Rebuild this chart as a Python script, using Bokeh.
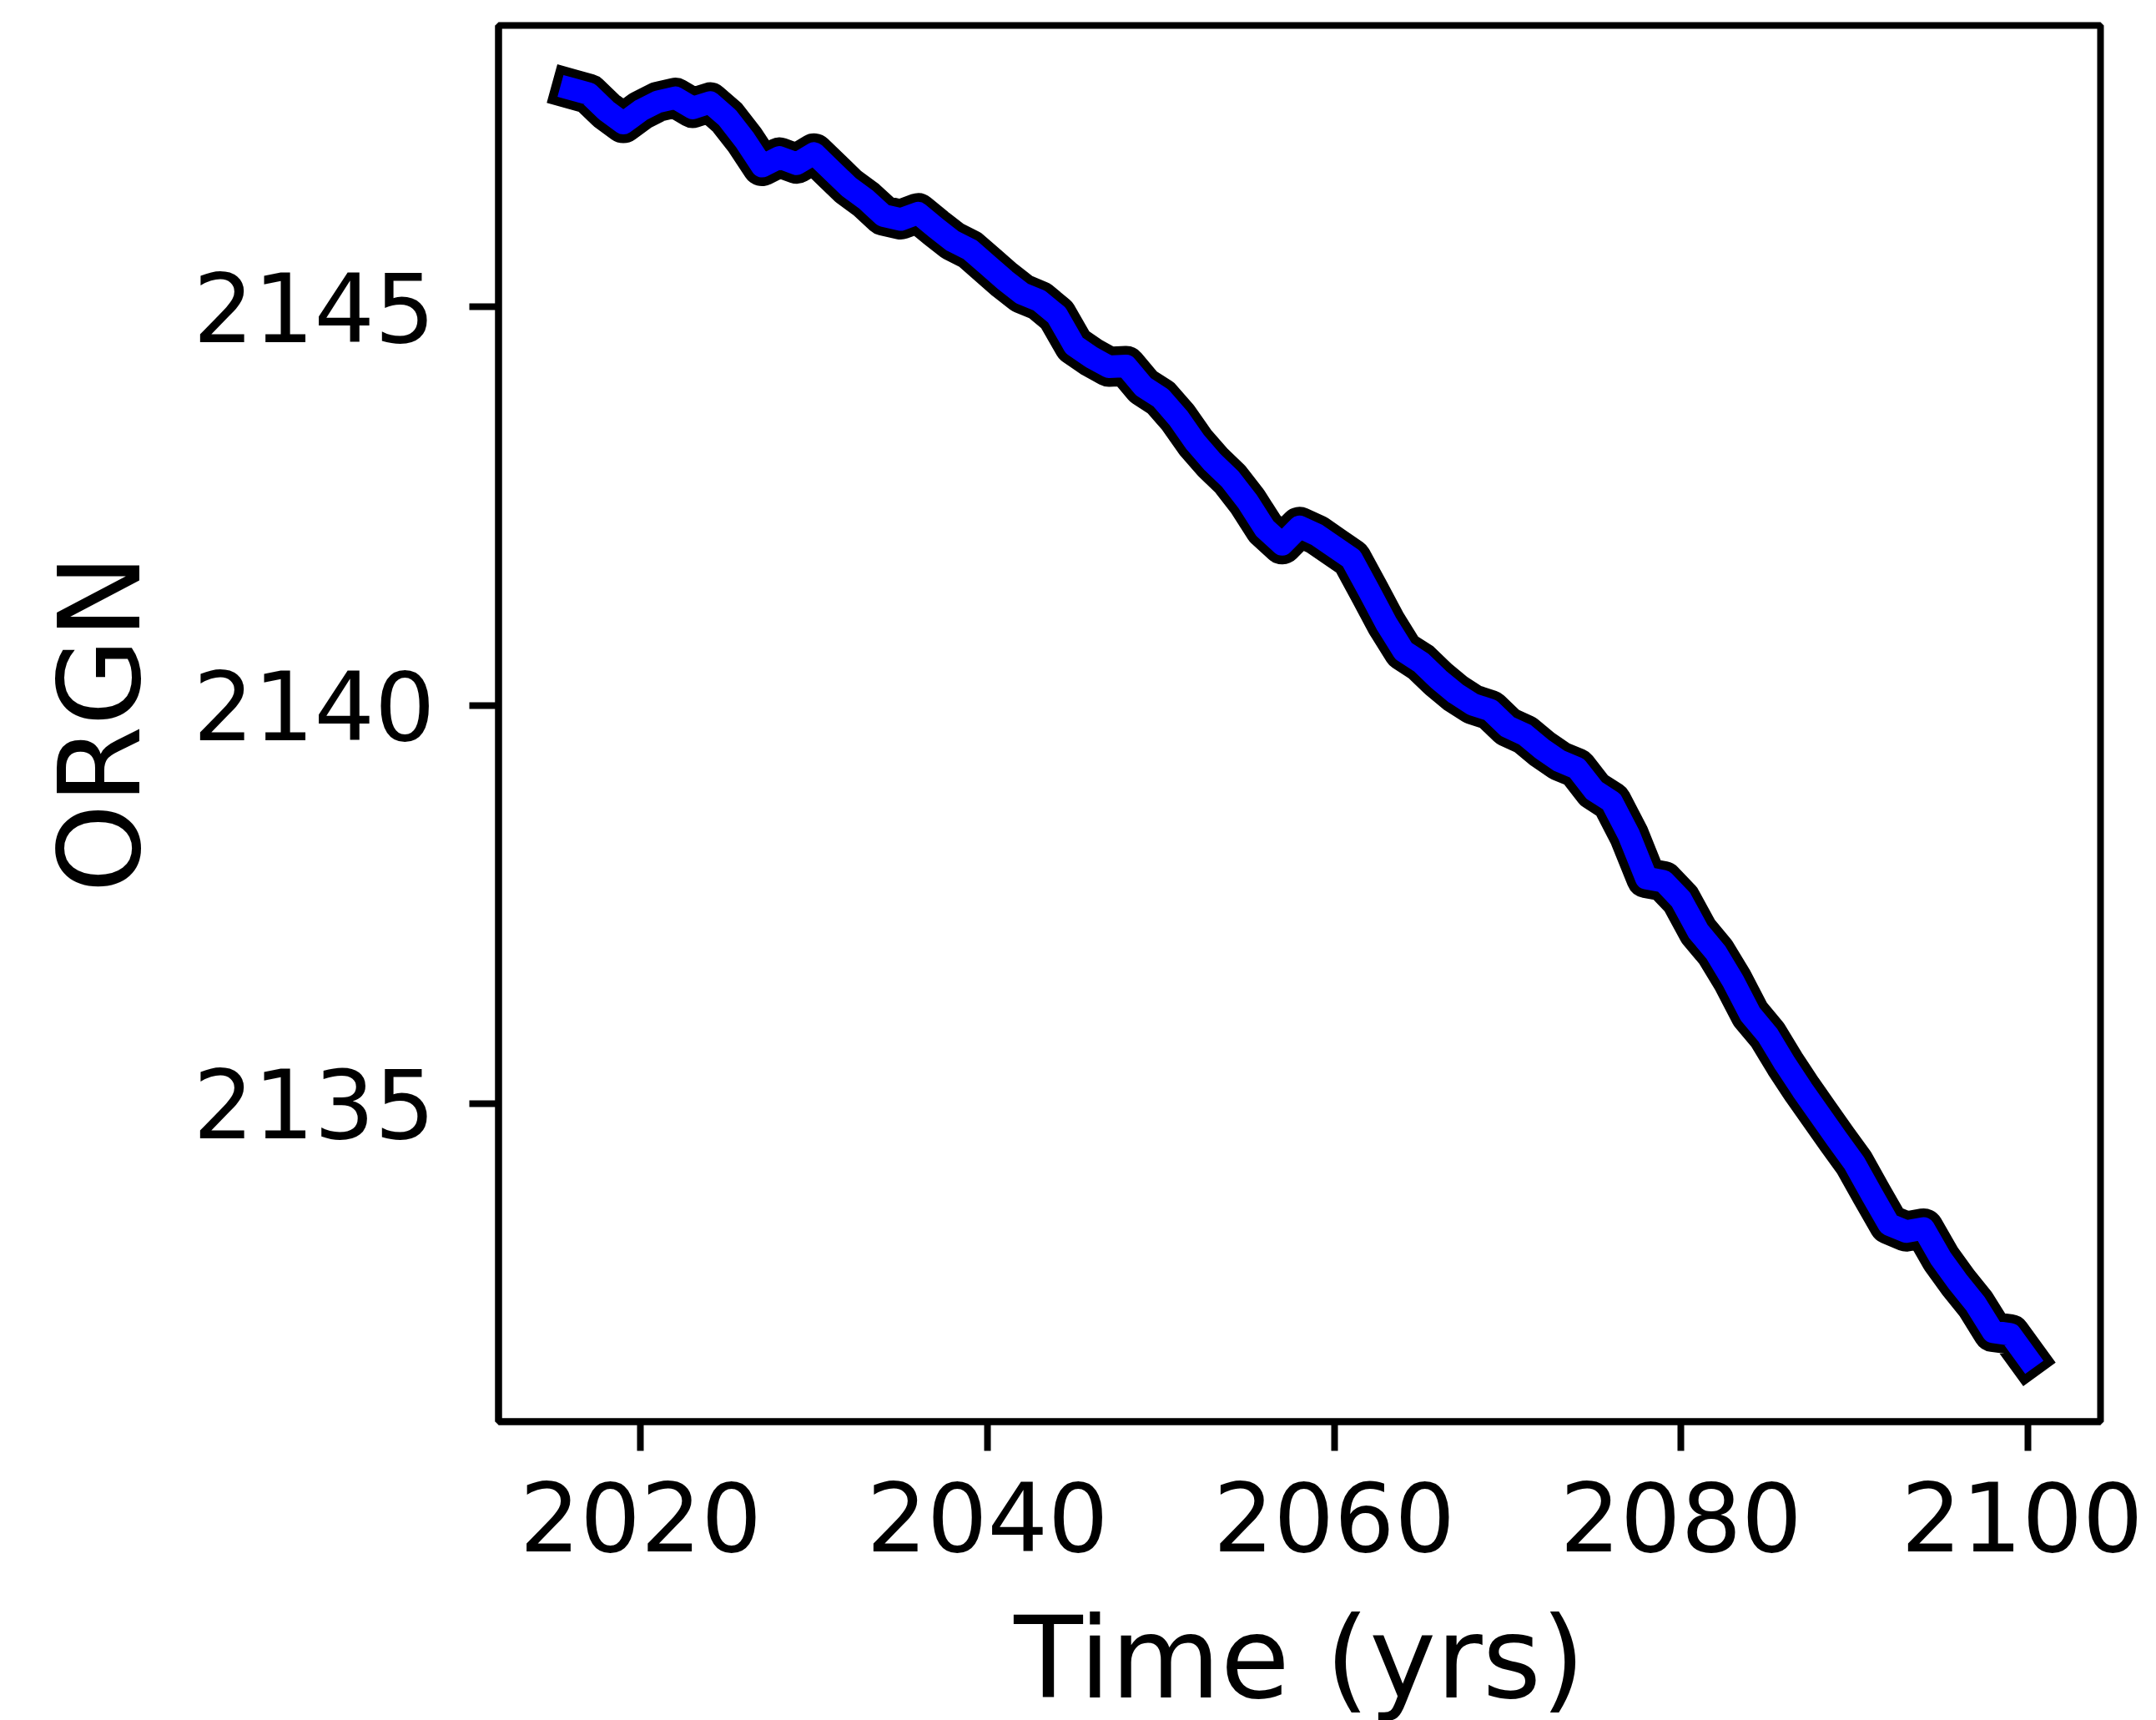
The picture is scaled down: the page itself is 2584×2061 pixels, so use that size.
from bokeh.plotting import figure
from bokeh.models import Range1d, FixedTicker
from bokeh.embed import file_html
from bokeh.resources import INLINE

years = list(range(2016, 2101))
orgn = [
    2147.74, 2147.68, 2147.47, 2147.31, 2147.47, 2147.58, 2147.63, 2147.50, 2147.57, 2147.38,
    2147.10, 2146.77, 2146.88, 2146.80, 2146.93, 2146.72, 2146.51, 2146.35, 2146.15, 2146.10,
    2146.18, 2146.00, 2145.83, 2145.72, 2145.53, 2145.34, 2145.17, 2145.08, 2144.90, 2144.52,
    2144.37, 2144.25, 2144.26, 2144.00, 2143.86, 2143.61, 2143.30, 2143.05, 2142.84, 2142.56,
    2142.22, 2142.02, 2142.24, 2142.14, 2141.99, 2141.84, 2141.44, 2141.03, 2140.68, 2140.54,
    2140.33, 2140.15, 2140.01, 2139.94, 2139.73, 2139.63, 2139.45, 2139.30, 2139.21, 2138.93,
    2138.79, 2138.37, 2137.83, 2137.79, 2137.56, 2137.16, 2136.90, 2136.54, 2136.12, 2135.86,
    2135.50, 2135.17, 2134.86, 2134.55, 2134.25, 2133.86, 2133.48, 2133.39, 2133.43, 2133.05,
    2132.75, 2132.48, 2132.13, 2132.10, 2131.80,
]
x_ticks = [2020, 2040, 2060, 2080, 2100]
y_ticks = [2135, 2140, 2145]

xmin, xmax = min(years), max(years)
ymin, ymax = min(orgn), max(orgn)
xpad = 0.05 * (xmax - xmin)
ypad = 0.05 * (ymax - ymin)

p = figure(
    frame_width=1920, frame_height=1673,
    output_backend="svg", toolbar_location=None,
    x_range=Range1d(xmin - xpad, xmax + xpad),
    y_range=Range1d(ymin - ypad, ymax + ypad),
    min_border_left=597, min_border_right=51,
    min_border_top=30, min_border_bottom=350,
)
p.background_fill_color = "white"
p.border_fill_color = "white"
p.grid.visible = False
p.outline_line_color = "black"
p.outline_line_width = 8

p.line(years, orgn, line_color="black", line_width=48, line_cap="square", line_join="round")
p.line(years, orgn, line_color="#0000ff", line_width=27, line_cap="square", line_join="round")

p.xaxis.ticker = FixedTicker(ticks=x_ticks)
p.yaxis.ticker = FixedTicker(ticks=y_ticks)
p.xaxis.axis_label = "Time (yrs)"
p.yaxis.axis_label = "ORGN"

for ax in (p.xaxis, p.yaxis):
    ax.axis_line_color = "black"
    ax.axis_line_width = 8
    ax.major_tick_line_color = "black"
    ax.major_tick_line_width = 8
    ax.major_tick_out = 35
    ax.major_tick_in = 0
    ax.minor_tick_line_color = None
    ax.major_label_text_font = "DejaVu Sans"
    ax.major_label_text_font_size = "114px"
    ax.major_label_text_color = "black"
    ax.axis_label_text_font = "DejaVu Sans"
    ax.axis_label_text_font_size = "135px"
    ax.axis_label_text_font_style = "normal"
    ax.axis_label_text_color = "black"

p.xaxis.major_label_standoff = 36
p.xaxis.axis_label_standoff = 47
p.yaxis.major_label_standoff = 41
p.yaxis.axis_label_standoff = 29

open("out.html", "w").write(file_html(p, INLINE))
